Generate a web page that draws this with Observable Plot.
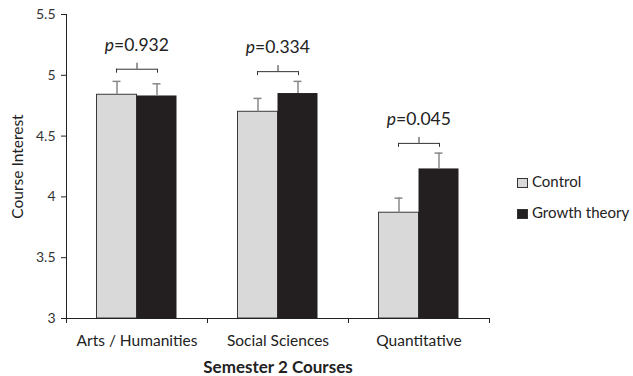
<!DOCTYPE html>
<html><head><meta charset="utf-8">
<script src="https://cdn.jsdelivr.net/npm/d3@7"></script>
<script src="https://cdn.jsdelivr.net/npm/@observablehq/plot@0.6"></script>
<style>
body{margin:0;background:#fff;}
#wrap{position:relative;width:633px;height:376px;font-family:Lato,"Open Sans",sans-serif;color:#222;}
#legend{position:absolute;left:517px;top:166px;font-size:15px;line-height:31px;}
#legend .sw{display:inline-block;width:11px;height:10px;margin-right:4px;vertical-align:-1px;border:1px solid #333;box-sizing:border-box;}
</style>
</head><body><div id="wrap"></div>
<script>
const courses = ["Arts / Humanities", "Social Sciences", "Quantitative"];
const groups = ["Control", "Growth theory"];
const controlMeans = [4.84, 4.70, 3.87];
const growthMeans = [4.83, 4.85, 4.23];
const controlSE = [0.11, 0.11, 0.12];
const growthSE = [0.10, 0.10, 0.13];
const pValues = ["0.932", "0.334", "0.045"];
const bracketLevels = [5.05, 5.03, 4.44];
const yTicks = [3, 3.5, 4, 4.5, 5, 5.5];
const colors = ["#d9d9d9", "#231f20"];

const rows = courses.flatMap((c, i) => [
  {course: c, group: groups[0], mean: controlMeans[i], top: controlMeans[i] + controlSE[i]},
  {course: c, group: groups[1], mean: growthMeans[i], top: growthMeans[i] + growthSE[i]}
]);
const ctrl = rows.filter(d => d.group === groups[0]);
const grow = rows.filter(d => d.group === groups[1]);
const brackets = courses.map((c, i) => ({course: c, level: bracketLevels[i], p: pValues[i]}));

const H = 70.5; // half band
const chart = Plot.plot({
  width: 633, height: 376,
  marginLeft: 66, marginRight: 144, marginTop: 14, marginBottom: 58,
  style: {fontFamily: "Lato, 'Open Sans', sans-serif", background: "#fff", color: "#222"},
  x: {domain: courses, padding: 0, axis: null},
  y: {domain: [3, 5.5], axis: null},
  marks: [
    Plot.axisY({ticks: yTicks, tickFormat: d => String(d), tickSize: 5, tickPadding: 6, fontSize: 14, label: null, stroke: "#222", fill: "#333"}),
    Plot.axisX({tickSize: 0, tickPadding: 16, fontSize: 15.5, label: null, fill: "#222"}),
    Plot.barY(ctrl, {x: "course", y1: 3, y2: "mean", fill: colors[0], stroke: "#3a3a3a", strokeWidth: 1, insetLeft: 30.5, insetRight: 70.5}),
    Plot.barY(grow, {x: "course", y1: 3, y2: "mean", fill: colors[1], insetLeft: 70.5, insetRight: 30.5}),
    Plot.ruleX(ctrl, {x: "course", dx: -20, y1: "mean", y2: "top", stroke: "#888", strokeWidth: 1.5}),
    Plot.ruleX(grow, {x: "course", dx: 20, y1: "mean", y2: "top", stroke: "#888", strokeWidth: 1.5}),
    Plot.ruleY(ctrl, {x1: "course", x2: "course", y: "top", insetLeft: 46.5, insetRight: 86.5, stroke: "#888", strokeWidth: 1.5}),
    Plot.ruleY(grow, {x1: "course", x2: "course", y: "top", insetLeft: 86.5, insetRight: 46.5, stroke: "#888", strokeWidth: 1.5}),
    // brackets
    Plot.ruleY(brackets, {x1: "course", x2: "course", y: "level", insetLeft: 50, insetRight: 50, stroke: "#333"}),
    Plot.ruleX(brackets, {x: "course", dx: -20.5, y1: "level", y2: "level", insetBottom: -4, stroke: "#333"}),
    Plot.ruleX(brackets, {x: "course", dx: 20.5, y1: "level", y2: "level", insetBottom: -4, stroke: "#333"}),
    Plot.ruleX(brackets, {x: "course", y1: "level", y2: "level", insetTop: -6, stroke: "#333"}),
    Plot.text(brackets, {x: "course", y: "level", text: () => "p", dy: -24, dx: -23, textAnchor: "end", fontStyle: "italic", fontSize: 17.5, fill: "#222"}),
    Plot.text(brackets, {x: "course", y: "level", text: d => "=" + d.p, dy: -24, dx: -23, textAnchor: "start", fontSize: 17.5, fill: "#222"}),
    // axes lines
    Plot.ruleY([3], {stroke: "#222"}),
    Plot.ruleX([courses[0]], {dx: -H, y1: 5.5, y2: 3, insetBottom: -5, stroke: "#222"}),
    Plot.ruleX(courses, {dx: H, y1: 3, y2: 3, insetBottom: -5, stroke: "#222"}),
    Plot.text(["Course Interest"], {frameAnchor: "left", textAnchor: "middle", lineAnchor: "middle", rotate: -90, dx: -48, fontSize: 15.5, fill: "#222"}),
    Plot.text(["Semester 2 Courses"], {frameAnchor: "bottom", lineAnchor: "middle", dy: 49, fontSize: 17, fontWeight: "bold", fill: "#222"})
  ]
});
const wrap = document.getElementById("wrap");
wrap.appendChild(chart);
const legend = document.createElement("div");
legend.id = "legend";
groups.forEach((g, i) => {
  const row = document.createElement("div");
  const sw = document.createElement("span");
  sw.className = "sw";
  sw.style.background = colors[i];
  row.appendChild(sw);
  row.appendChild(document.createTextNode(g));
  legend.appendChild(row);
});
wrap.appendChild(legend);
</script>
</body></html>
